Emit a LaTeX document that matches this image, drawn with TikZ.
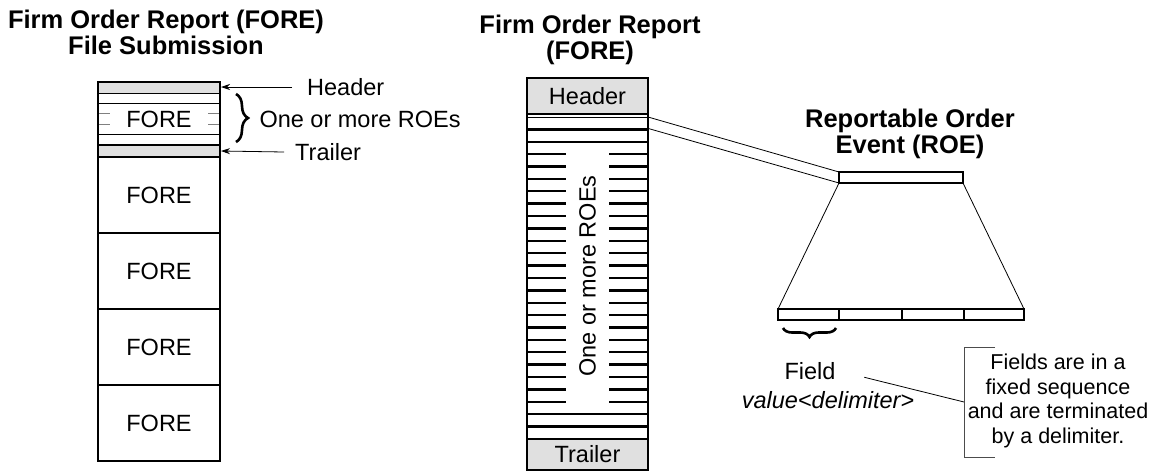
\documentclass[tikz,border=0pt]{standalone}
\usepackage{fontspec}
\setmainfont{Liberation Sans}
\usetikzlibrary{arrows.meta,decorations.pathreplacing,positioning}

\begin{document}
\begin{tikzpicture}[x=1pt,y=-1pt,
    txt/.style={font=\fontsize{23.5}{26}\selectfont},
    ttl/.style={font=\bfseries\fontsize{25.5}{26}\selectfont,align=center},
    box/.style={draw,line width=1.2pt,inner sep=0pt,outer sep=0pt,txt},
    band/.style={box,fill=black!12},
    bar/.style={draw,line width=1.6pt,inner sep=0pt,outer sep=0pt,minimum height=11pt},
    ptr/.style={line width=0.8pt,-{Stealth[length=9pt,width=6pt]}},
    brc/.style={decorate,line width=2.6pt}]
  \useasboundingbox (0,0) rectangle (1153,472);

  % titles
  \node[ttl] (ltitle) at (166,32) {Firm Order Report (FORE)\\File Submission};
  \node[ttl] (mtitle) at (590,40) {Firm Order Report\\(FORE)};
  \node[ttl] (roetitle) at (910,134) {Reportable Order\\Event (ROE)};

  % file submission
  \fill[black!12] (98,82) rectangle (220,93);
  \fill[black!12] (98,145) rectangle (220,157);
  \draw[line width=0.8pt] (98,93) -- (220,93) (98,103) -- (220,103) (98,134) -- (220,134);
  \foreach \y in {113,124}
    \draw[line width=0.8pt,gray] (98,\y) -- +(12,0) (220,\y) -- +(-12,0);
  \draw[line width=2pt] (98,145) -- (220,145) (98,157) -- (220,157);
  \draw[line width=1.2pt] (98,82) rectangle (220,157);
  \node[txt] (ftop) at (159,119) {FORE};
  \node[box,minimum width=122pt,minimum height=76pt,anchor=north] (f1) at (159,157) {FORE};
  \node[box,minimum width=122pt,minimum height=76pt,below=0pt of f1] (f2) {FORE};
  \node[box,minimum width=122pt,minimum height=76pt,below=0pt of f2] (f3) {FORE};
  \node[box,minimum width=122pt,minimum height=76pt,below=0pt of f3] (f4) {FORE};

  \coordinate (hdrtip) at (221,87);
  \coordinate (trltip) at (221,151);
  \node[txt,anchor=west,inner sep=1pt] (hdrlbl) at (292,87) {\hspace{14pt}Header};
  \node[txt,anchor=west,inner sep=1pt] (trllbl) at (284,152) {\hspace{10pt}Trailer};
  \draw[ptr] (hdrlbl.west) -- (hdrtip);
  \draw[ptr] (trllbl.west) -- (trltip);
  \draw[brc,decoration={brace,amplitude=12pt}] (236,94) -- (236,142);
  \node[txt,anchor=west] (roelbl) at (256,119) {One or more ROEs};

  % firm order report
  \node[band,minimum width=121pt,minimum height=36pt,anchor=north] (mhead) at (587.5,78) {Header};
  \node[band,minimum width=121pt,minimum height=31pt,anchor=south] (mtrail) at (587.5,470) {Trailer};
  \draw[line width=1.2pt] (527,114) -- (527,439) (648,114) -- (648,439);
  \coordinate (s0) at (648,117);
  \coordinate (s1) at (648,128.4);
  \draw[line width=1pt] (527,117) -- (s0);
  \foreach \k [evaluate=\k as \y using 117+12.38*\k] in {1,2,24,25}
    \draw[line width=2.4pt] (527,\y) -- (648,\y);
  \foreach \k [evaluate=\k as \y using 117+12.38*\k] in {3,...,23}
    \draw[line width=2.4pt] (527,\y) -- (566,\y) (609,\y) -- (648,\y);
  \node[txt,rotate=90] (mroes) at (587.5,276) {One or more ROEs};

  % reportable order event
  \node[bar,minimum width=124pt] (roe) at (901,177.5) {};
  \node[bar,minimum width=246pt] (fields) at (901,314.5) {};
  \draw[line width=0.8pt] (s0) -- (roe.north west) (s1) -- (roe.south west);
  \draw[line width=0.8pt] (roe.south west) -- (fields.north west)
    (roe.south east) -- (fields.north east);
  \foreach \x in {839,902,964}
    \draw[line width=1.6pt] (\x,309) -- (\x,320);
  \draw[brc,decoration={brace,mirror,amplitude=9pt}] (783,328) -- (836,328);
  \node[txt] (fld) at (810,371) {Field};
  \node[txt,font=\itshape\fontsize{23.5}{26}\selectfont] (val) at (828,400) {value<delimiter>};

  \node[font=\fontsize{21.5}{24.5}\selectfont,align=center] (note) at (1058,401)
    {Fields are in a\\fixed sequence\\and are terminated\\by a delimiter.};
  \coordinate (notept) at (964,402);
  \draw[line width=0.8pt,black!70] (995,347) -- (964,347) -- (964,457) -- (995,457);
  \draw[line width=0.8pt,shorten <=26pt] (fld.east) -- (notept);
\end{tikzpicture}
\end{document}
